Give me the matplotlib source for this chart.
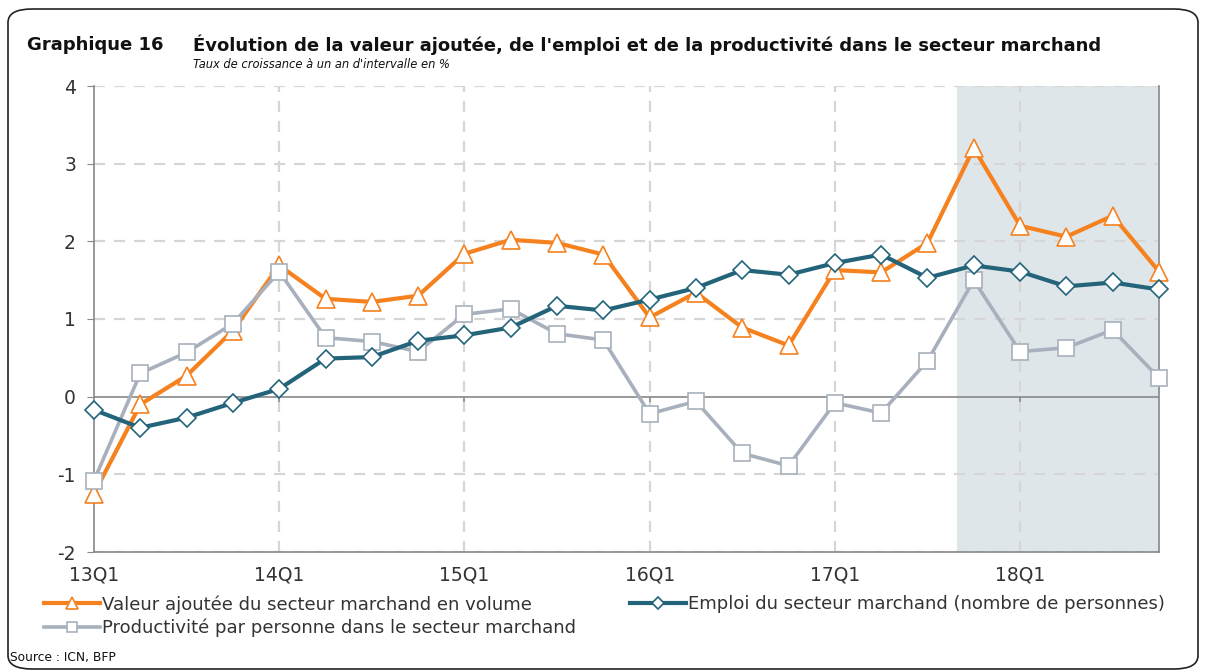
import matplotlib
matplotlib.use("Agg")
import matplotlib.pyplot as plt
from matplotlib.patches import FancyBboxPatch
import numpy as np

quarters = [f"{y}Q{q}" for y in range(13, 19) for q in range(1, 5)]
valeur_ajoutee = [-1.25, -0.10, 0.27, 0.85, 1.69, 1.26, 1.22, 1.30,
                  1.84, 2.02, 1.98, 1.83, 1.02, 1.34, 0.89, 0.66,
                  1.63, 1.60, 1.98, 3.20, 2.20, 2.06, 2.33, 1.61]
emploi = [-0.17, -0.40, -0.27, -0.08, 0.10, 0.49, 0.51, 0.72,
          0.79, 0.89, 1.17, 1.11, 1.25, 1.40, 1.63, 1.57,
          1.72, 1.83, 1.53, 1.69, 1.61, 1.42, 1.47, 1.38]
productivite = [-1.08, 0.30, 0.57, 0.94, 1.61, 0.76, 0.71, 0.58,
                1.06, 1.13, 0.81, 0.73, -0.22, -0.06, -0.73, -0.89,
                -0.08, -0.21, 0.46, 1.50, 0.58, 0.63, 0.86, 0.24]
tick_labels = ["13Q1", "14Q1", "15Q1", "16Q1", "17Q1", "18Q1"]
y_ticks = [-2, -1, 0, 1, 2, 3, 4]
labels = ["Valeur ajoutée du secteur marchand en volume",
          "Emploi du secteur marchand (nombre de personnes)",
          "Productivité par personne dans le secteur marchand"]

ORANGE = "#F5821F"
BLUE = "#23647A"
GREY = "#A7B0BC"
SHADE = "#DFE6EA"
TXT = "#333333"

plt.rcParams['font.family'] = ['DejaVu Sans']

fig = plt.figure(figsize=(12.06, 6.72), dpi=100)
ax = fig.add_axes([94/1206, 1-552/672, (1159-94)/1206, (552-86)/672])

x = np.arange(len(quarters))
ax.axvspan(18.63, len(quarters)-1, color=SHADE, zorder=0, lw=0)

l1, = ax.plot(x, valeur_ajoutee, color=ORANGE, lw=3, marker="^", ms=13,
              mfc="white", mec=ORANGE, mew=1.2, zorder=3, clip_on=False)
l3, = ax.plot(x, productivite, color=GREY, lw=2.6, marker="s", ms=11,
              mfc="white", mec=GREY, mew=1.2, zorder=4, clip_on=False)
l2, = ax.plot(x, emploi, color=BLUE, lw=3, marker="D", ms=9,
              mfc="white", mec=BLUE, mew=1.2, zorder=5, clip_on=False)

ax.set_xlim(0, len(quarters)-1)
ax.set_ylim(-2, 4)
ax.set_yticks(y_ticks)
ax.set_yticklabels([str(v) for v in y_ticks], fontsize=13.5, color=TXT)
tick_pos = [quarters.index(t) for t in tick_labels]
ax.set_xticks(tick_pos)
ax.set_xticklabels(tick_labels, fontsize=13.5, color=TXT)
ax.tick_params(axis="x", length=0, pad=10)
ax.tick_params(axis="y", length=5, color="#888888", pad=8)

for v in y_ticks:
    if v == 0:
        ax.axhline(0, color="#888888", lw=1.2, zorder=1)
    else:
        ax.axhline(v, color="#D6D6D6", lw=1.6, ls=(0, (5, 4)), zorder=1)
for t in tick_pos[1:]:
    ax.axvline(t, color="#D6D6D6", lw=1.6, ls=(0, (5, 4)), zorder=1)
# small tick marks on the zero line
ax.vlines(tick_pos[1:], -0.07, 0, color="#888888", lw=1.2, zorder=1)

ax.spines["top"].set_visible(False)
for s in ["left", "right", "bottom"]:
    ax.spines[s].set_color("#888888")
    ax.spines[s].set_linewidth(1.2)
ax.set_facecolor("none")

fig.text(27/1206, 1-45/672, "Graphique 16", fontsize=13, fontweight="bold",
         color="#111111", va="center", ha="left")
fig.text(193/1206, 1-45/672,
         "Évolution de la valeur ajoutée, de l'emploi et de la productivité dans le secteur marchand",
         fontsize=13, fontweight="bold", color="#111111", va="center", ha="left")
fig.text(193/1206, 1-64/672, "Taux de croissance à un an d'intervalle en %",
         fontsize=8.3, style="italic", color="#111111", va="center", ha="left")
fig.text(10/1206, 1-658/672, "Source : ICN, BFP", fontsize=8.8, color="#111111",
         va="center", ha="left")

leg_kw = dict(loc="upper left", frameon=False, fontsize=13, handlelength=3.1,
              handletextpad=0.12, labelspacing=0.3, borderpad=0, borderaxespad=0,
              markerscale=0.7)
leg1 = fig.legend([l1, l3], [labels[0], labels[2]],
                  bbox_to_anchor=(44/1206, 1-595/672), **leg_kw)
leg2 = fig.legend([l2], [labels[1]],
                  bbox_to_anchor=(630/1206, 1-595/672), **leg_kw)
for lg in (leg1, leg2):
    for t in lg.get_texts():
        t.set_color(TXT)

frame = FancyBboxPatch((8/1206, 3/672), 1190/1206, 660/672,
                       boxstyle="round,pad=0,rounding_size=0.02",
                       transform=fig.transFigure, fill=False, ec="#222222", lw=1.2)
fig.patches.append(frame)

fig.savefig("out.png", dpi=100)
